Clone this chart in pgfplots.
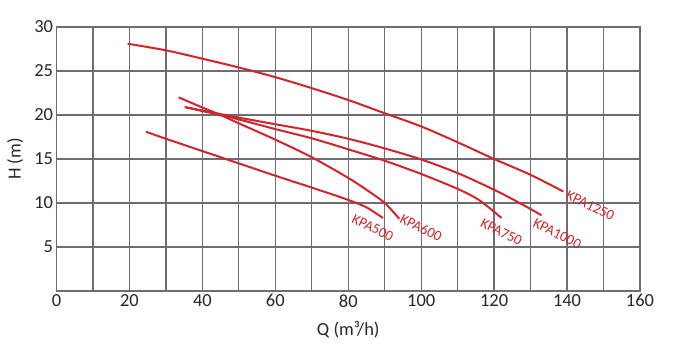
\documentclass[border=0pt]{standalone}
\usepackage{fontspec}
\setmainfont{Carlito}
\usepackage{pgfplots}
\pgfplotsset{compat=1.18}
\definecolor{gridc}{HTML}{6E6E6E}
\definecolor{curve}{HTML}{D2252B}
\tikzset{pc/.style={curve, line width=2bp, smooth}}
\begin{document}
\begin{tikzpicture}
\begin{axis}[name=ax, scale only axis, width=583.5bp, height=264bp,
  xmin=0, xmax=160, ymin=0, ymax=30,
  xtick={0,20,...,160}, minor xtick={10,30,...,150},
  ytick={5,10,...,30},
  grid=both,
  major grid style={gridc, line width=1.3bp},
  minor grid style={gridc, line width=1.3bp},
  axis line style={gridc, line width=1.3bp},
  major tick length=0pt, minor tick length=0pt,
  tick label style={font=\fontsize{18.5}{20}\selectfont, text=black!85},
  /pgf/number format/assume math mode=true,
  xlabel={Q (m³/h)}, ylabel={H (m)},
  label style={font=\fontsize{18.5}{20}\selectfont, text=black!85},
  xlabel style={at={(axis description cs:0.5,-0.148)}, anchor=center},
  ylabel style={at={(axis description cs:-0.071,0.5)}, anchor=center},
  clip=false,
]
% KPA1250
\addplot[pc] coordinates {(19.5,28.1) (30,27.35) (40,26.4) (50,25.4) (60,24.3) (70,23.05) (80,21.7) (90,20.2) (100,18.7) (110,16.9) (120,15.0) (130,13.2) (139,11.3)};
% KPA1000
\addplot[pc] coordinates {(35.2,20.9) (45,20.1) (50,19.7) (60,18.95) (70,18.2) (80,17.3) (90,16.2) (100,14.95) (110,13.4) (120,11.5) (127,10.0) (133,8.6)};
% KPA750
\addplot[pc] coordinates {(35.2,20.9) (40,20.45) (45,20.0) (50,19.5) (60,18.4) (70,17.35) (80,16.1) (90,14.8) (100,13.3) (110,11.6) (116,10.3) (122,8.3)};
% KPA600
\addplot[pc] coordinates {(33.5,22.0) (40,20.85) (45,20.0) (50,19.05) (60,17.2) (70,15.2) (80,12.85) (85,11.5) (90,10.0) (94,8.2)};
% KPA500
\addplot[pc] coordinates {(24.5,18.1) (30,17.3) (40,15.9) (50,14.5) (60,13.1) (70,11.75) (80,10.35) (85,9.5) (89.5,8.3)};
\begin{scope}[every node/.style={font=\fontsize{14.5}{15}\selectfont, text=curve, rotate=-26, anchor=center, inner sep=0pt}]
\node at (axis cs:86.7,7.2) {KPA500};
\node at (axis cs:100,7.2) {KPA600};
\node at (axis cs:122,6.7) {KPA750};
\node at (axis cs:137.3,6.5) {KPA1000};
\node at (axis cs:146.4,9.7) {KPA1250};
\end{scope}
\end{axis}
\pgfresetboundingbox
\path[use as bounding box] (ax.south west) ++(-56.5bp,-60bp) rectangle ([shift={(47bp,27bp)}]ax.north east);
\end{tikzpicture}
\end{document}
